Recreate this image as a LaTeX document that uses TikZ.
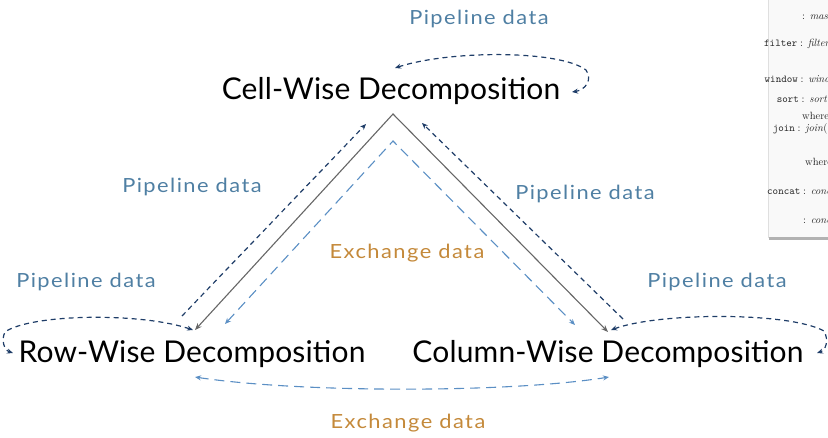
\documentclass[tikz,border=0pt]{standalone}
\usepackage{fontspec}
\setmainfont{Lato}
\newfontfamily\labelfont{Lato}[FakeStretch=1.12,LetterSpace=7.5]
\newfontfamily\titlefont{Lato}[LetterSpace=0.5]
\newfontfamily\slideserif{Latin Modern Roman}
\newfontfamily\slidemono{Latin Modern Mono}
\usetikzlibrary{arrows.meta}

\definecolor{pipetext}{HTML}{4F7FA3}
\definecolor{exchtext}{HTML}{C4893A}
\definecolor{navydash}{HTML}{1F3D68}
\definecolor{lightdash}{HTML}{5B8FC4}
\definecolor{solidgray}{HTML}{666666}

\tikzset{
  decomp/.style={font=\titlefont\fontsize{30}{32}\selectfont, text=black, inner sep=0pt, anchor=base},
  pipelabel/.style={font=\labelfont\fontsize{19.5}{24}\selectfont, text=pipetext, inner sep=0pt, anchor=base},
  exchlabel/.style={font=\labelfont\fontsize{19.5}{24}\selectfont, text=exchtext, inner sep=0pt, anchor=base},
  pipeflow/.style={navydash, line width=1.2pt, dash pattern=on 5pt off 4pt,
    arrows={Stealth[length=6pt,width=5pt]-Stealth[length=6pt,width=5pt]}},
  pipeone/.style={navydash, line width=1.2pt, dash pattern=on 5pt off 4pt,
    -{Stealth[length=6pt,width=5pt]}},
  exchflow/.style={lightdash, line width=1.1pt, dash pattern=on 10pt off 6pt,
    arrows={Stealth[length=6pt,width=5pt]-Stealth[length=6pt,width=5pt]}},
  hierarchy/.style={solidgray, line width=1.1pt,
    arrows={Stealth[length=7pt,width=5.5pt]-Stealth[length=7pt,width=5.5pt]}},
  slidename/.style={font=\slidemono\fontsize{10.5}{11}\selectfont, text=black!85, inner sep=0pt, anchor=base east},
  slidebody/.style={font=\slideserif\fontsize{10.5}{11}\selectfont, text=black!85, inner sep=0pt, anchor=base west},
}

\begin{document}
\begin{tikzpicture}[x=1pt,y=-1pt]
\useasboundingbox (0,0) rectangle (828,437);

% fragment of a neighbouring slide in the upper right corner
\begin{scope}
  \clip (760,0) rectangle (828,242);
  \fill[gray!25] (768,0) rectangle (830,238);
  \fill[gray!60] (768.5,236) rectangle (830,239.5);
  \fill[gray!5] (769,0) rectangle (830,236.5);
  \node[slidebody] at (802,19) {: \textit{mask}};
  \node[slidename] at (797.5,46) {filter};
  \node[slidebody] at (800,46) {: \textit{filter}};
  \node[slidename] at (798,82) {window};
  \node[slidebody] at (800.5,82) {: \textit{window}};
  \node[slidename] at (799,102) {sort};
  \node[slidebody] at (801.5,102) {: \textit{sort}(};
  \node[slidebody] at (802,119) {where};
  \node[slidename] at (795,131) {join};
  \node[slidebody] at (797.5,131) {: \textit{join}(};
  \node[slidebody] at (805,165) {where};
  \node[slidename] at (800.5,194) {concat};
  \node[slidebody] at (803,194) {: \textit{concat}};
  \node[slidebody] at (803,223) {: \textit{concat}};
\end{scope}

% the three decompositions
\node[decomp] (cell) at (391,99) {Cell-Wise Decomposition};
\node[decomp] (row) at (192,362) {Row-Wise Decomposition};
\node[decomp] (col) at (608,362) {Column-Wise Decomposition};

% labels
\node[pipelabel] (ptop) at (479,24) {Pipeline data};
\node[pipelabel] (pleftmid) at (192,192) {Pipeline data};
\node[pipelabel] (prightmid) at (585,199) {Pipeline data};
\node[pipelabel] (pleftlow) at (86,287) {Pipeline data};
\node[pipelabel] (prightlow) at (717,287) {Pipeline data};
\node[exchlabel] (exmid) at (407,258) {Exchange data};
\node[exchlabel] (exbot) at (408,428) {Exchange data};

% end points of the connectors
\coordinate (apex) at (393,114);
\coordinate (rowtip) at (195,330);
\coordinate (coltip) at (608,332);
\coordinate (exapex) at (393,141);
\coordinate (exrow) at (225,324);
\coordinate (excol) at (575,325);
\coordinate (upL0) at (182,316);
\coordinate (upL1) at (366,124);
\coordinate (upR0) at (623,319);
\coordinate (upR1) at (422,123);
\coordinate (loopTa) at (395,68);
\coordinate (loopTb) at (572,92);
\coordinate (loopLa) at (193,330);
\coordinate (loopLb) at (13,353);
\coordinate (loopRa) at (611,330);
\coordinate (loopRb) at (817,353);
\coordinate (botL) at (195,377);
\coordinate (botR) at (609,377);

% hierarchy between the decompositions
\draw[hierarchy] (rowtip) -- (apex) -- (coltip);
\draw[exchflow] (exrow) -- (exapex) -- (excol);
\draw[pipeone] (upL0) -- (upL1);
\draw[pipeone] (upR0) -- (upR1);

% pipelines within one decomposition
\draw[pipeflow] (loopTa) .. controls (450,50) and (560,50) .. (586,70)
  .. controls (593,80) and (585,90) .. (loopTb);
\draw[pipeflow] (loopLa) .. controls (140,312) and (30,314) .. (5,332)
  .. controls (1,340) and (4,350) .. (loopLb);
\draw[pipeflow] (loopRa) .. controls (660,312) and (790,312) .. (824,331)
  .. controls (829,340) and (826,350) .. (loopRb);

% exchange between rows and columns
\draw[exchflow] (botL) .. controls (300,393) and (510,393) .. (botR);
\end{tikzpicture}
\end{document}
